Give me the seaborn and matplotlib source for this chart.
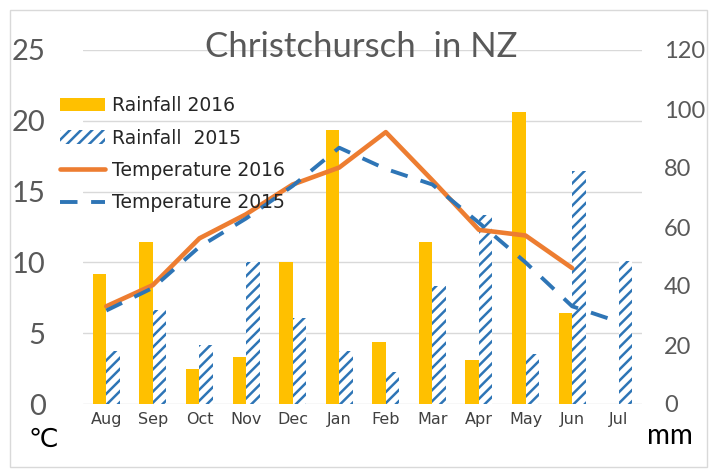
import numpy as np
import pandas as pd
import seaborn as sns
import matplotlib.pyplot as plt
from matplotlib.patches import Rectangle

# data
months = ['Aug', 'Sep', 'Oct', 'Nov', 'Dec', 'Jan', 'Feb', 'Mar', 'Apr', 'May', 'Jun', 'Jul']
rain_2016 = [44, 55, 12, 16, 48, 93, 21, 55, 15, 99, 31, np.nan]
rain_2015 = [18, 32, 20, 48, 29, 18, 11, 40, 64, 17, 79, 48.5]
temp_2016 = [6.9, 8.4, 11.7, 13.4, 15.5, 16.7, 19.2, 15.8, 12.3, 11.9, 9.6, np.nan]
temp_2015 = [6.6, 8.2, 11.1, 13.1, 15.4, 18.1, 16.6, 15.5, 12.8, 10.0, 6.9, 5.8]
temp_ticks = [0, 5, 10, 15, 20, 25]
rain_ticks = [0, 20, 40, 60, 80, 100, 120]

gold = '#FFC000'
orange = '#ED7D31'
blue = '#2E75B6'
grey = '#595959'

rain_df = pd.DataFrame({
    'month': months * 2,
    'rain': rain_2016 + rain_2015,
    'year': ['2016'] * len(months) + ['2015'] * len(months),
})
pos = np.arange(len(months))

sns.set_style('white')
plt.rcParams['font.family'] = ['Lato', 'DejaVu Sans']
plt.rcParams['hatch.linewidth'] = 1.8

fig = plt.figure(figsize=(7.17, 4.74), dpi=100)
ax = fig.add_axes([83 / 717, 1 - 404 / 474, (642 - 83) / 717, (404 - 50) / 474])

# bars (rainfall, right axis)
sns.barplot(data=rain_df, x='month', y='rain', hue='year', order=months,
            hue_order=['2016', '2015'], palette={'2016': gold, '2015': 'white'},
            saturation=1, width=0.58, errorbar=None, ax=ax, legend=False, linewidth=0)
for p in ax.containers[1]:
    p.set_hatch('///')
    p.set_edgecolor(blue)
    p.set_linewidth(0)

ax.set_ylim(0, 120)
ax.set_xlim(-0.5, len(months) - 0.5)
ax.set_xlabel('')
ax.set_ylabel('')
for t in temp_ticks:
    ax.axhline(t * 120 / 25, color='#D9D9D9', lw=1, zorder=0)
ax.set_axisbelow(True)
for s in ax.spines.values():
    s.set_visible(False)

# lines (temperature, left axis)
ax2 = ax.twinx()
sns.lineplot(x=pos, y=temp_2016, ax=ax2, color=orange, lw=3.3, label='Temperature 2016')
sns.lineplot(x=pos, y=temp_2015, ax=ax2, color=blue, lw=2.8, label='Temperature 2015')
ax2.get_lines()[1].set_dashes((4.5, 3.5))
ax2.set_ylim(0, 25)
ax2.set_yticks(temp_ticks)
ax2.yaxis.tick_left()
ax2.tick_params(axis='y', length=0, pad=27, labelsize=21, labelcolor=grey)
for s in ax2.spines.values():
    s.set_visible(False)
if ax2.get_legend():
    ax2.get_legend().remove()

ax.yaxis.tick_right()
ax.set_yticks(rain_ticks)
ax.tick_params(axis='y', length=0, pad=16, labelsize=17, labelcolor=grey)
ax.tick_params(axis='x', length=0, pad=6, labelsize=11.5, labelcolor='#404040')
for lab in ax.get_xticklabels():
    lab.set_fontfamily('DejaVu Sans')

handles = [ax.containers[0][0], ax.containers[1][0]] + ax2.get_lines()[:2]
labels = ['Rainfall 2016', 'Rainfall  2015', 'Temperature 2016', 'Temperature 2015']
fig.legend(handles, labels, loc='upper left', bbox_to_anchor=(60 / 717, 1 - 96 / 474),
           frameon=False, prop={'family': 'DejaVu Sans', 'size': 13.5}, labelcolor='#262626',
           handlelength=2.4, handleheight=0.75, labelspacing=0.72, handletextpad=0.35,
           borderaxespad=0, borderpad=0)

fig.text(361 / 717, 1 - 47 / 474, 'Christchursch  in NZ', ha='center', va='center',
         fontsize=25, color=grey)
fig.text(43 / 717, 1 - 440 / 474, '℃', ha='center', va='center', fontsize=19,
         family='DejaVu Sans', color='black')
fig.text(670 / 717, 1 - 436 / 474, 'mm', ha='center', va='center', fontsize=20,
         color='black')

fig.patches.append(Rectangle((10 / 717, 1 - 467 / 474), 697 / 717, 457 / 474,
                             transform=fig.transFigure, fill=False, ec='#D9D9D9', lw=1))

fig.savefig('out.png', dpi=100)
